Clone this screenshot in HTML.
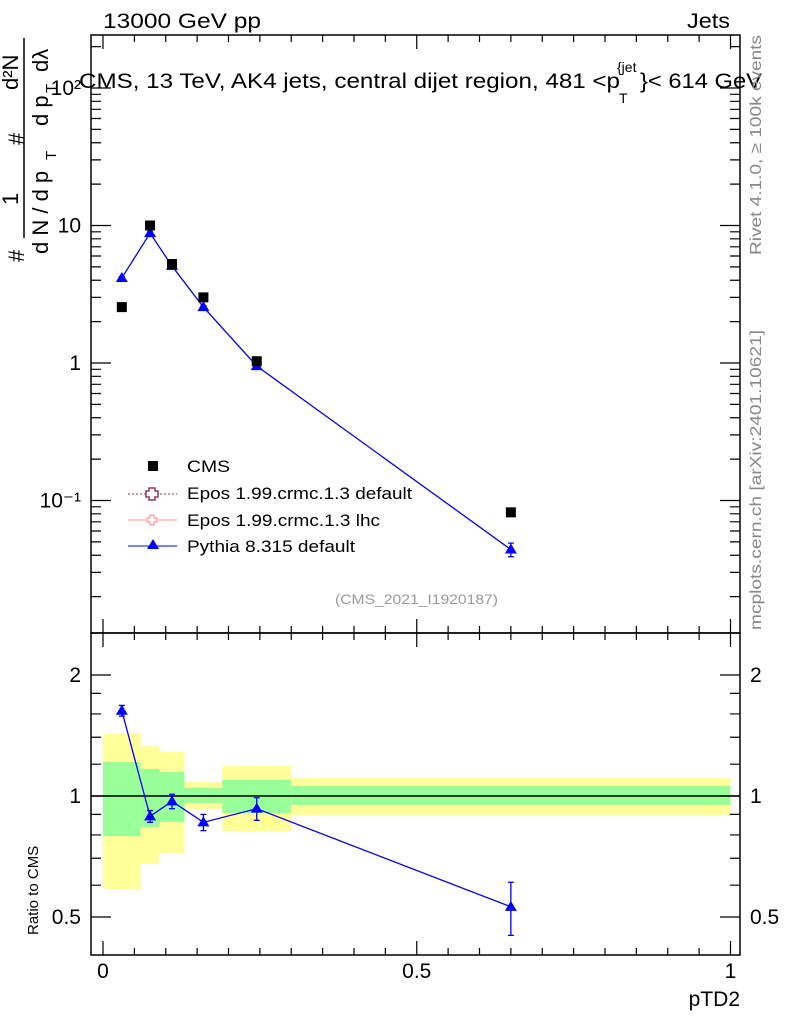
<!DOCTYPE html>
<html><head><meta charset="utf-8"><style>
body{margin:0;background:#fff;width:786px;height:1024px;overflow:hidden}
svg text{font-family:"Liberation Sans",sans-serif}
</style></head><body>
<svg id="c" width="786" height="1024" xmlns="http://www.w3.org/2000/svg">
<g id="bands"></g>
<g id="marks"></g>
<g id="axes"></g>
<text x="103" y="28" font-size="21" textLength="158" lengthAdjust="spacingAndGlyphs">13000 GeV pp</text>
<text x="687" y="28" font-size="21" textLength="43" lengthAdjust="spacingAndGlyphs">Jets</text>
<g>
<text x="79" y="88" font-size="21" textLength="541" lengthAdjust="spacingAndGlyphs">CMS, 13 TeV, AK4 jets, central dijet region, 481 &lt;p</text>
<text x="617" y="72" font-size="14">{jet</text>
<text x="619" y="103" font-size="14">T</text>
<text x="640" y="88" font-size="21" textLength="122" lengthAdjust="spacingAndGlyphs">}&lt; 614 GeV</text>
</g>
<text x="335" y="604" font-size="14" fill="#999" textLength="163" lengthAdjust="spacingAndGlyphs">(CMS_2021_I1920187)</text>
<text transform="translate(761,255) rotate(-90)" font-size="16" fill="#888" textLength="220" lengthAdjust="spacingAndGlyphs">Rivet 4.1.0, ≥ 100k events</text>
<text transform="translate(761,630) rotate(-90)" font-size="16" fill="#888" textLength="300" lengthAdjust="spacingAndGlyphs">mcplots.cern.ch [arXiv:2401.10621]</text>
<g>
<text transform="translate(24,262) rotate(-90)" font-size="22">#</text>
<text transform="translate(18,205) rotate(-90)" font-size="22">1</text>
<text transform="translate(24,145) rotate(-90)" font-size="22">#</text>
<text transform="translate(18,90) rotate(-90)" font-size="22">d²N</text>
<line x1="24" y1="38" x2="24" y2="238" stroke="#000" stroke-width="1.5"/>
<text transform="translate(48,254) rotate(-90)" font-size="22">d N / d p</text>
<text transform="translate(56,160) rotate(-90)" font-size="15">T</text>
<text transform="translate(48,126) rotate(-90)" font-size="22">d p</text>
<text transform="translate(56,93) rotate(-90)" font-size="15">T</text>
<text transform="translate(48,72) rotate(-90)" font-size="22">dλ</text>
</g>
<text transform="translate(38,935) rotate(-90)" font-size="15">Ratio to CMS</text>
<text x="740" y="1006" font-size="21" text-anchor="end">pTD2</text>
<g>
<rect x="148" y="461" width="10" height="10" fill="#000"/>
<text x="187" y="472" font-size="17" textLength="43" lengthAdjust="spacingAndGlyphs">CMS</text>
<line x1="128" y1="494" x2="177" y2="494" stroke="#8b3a5a" stroke-dasharray="2,2"/>
<path d="M149,488h6v3h3v6h-3v3h-6v-3h-3v-6h3z" fill="#fff" stroke="#8b3a5a" stroke-width="1.5"/>
<text x="187" y="499" font-size="17" textLength="225" lengthAdjust="spacingAndGlyphs">Epos 1.99.crmc.1.3 default</text>
<line x1="128" y1="520" x2="177" y2="520" stroke="#f99"/>
<path d="M150,515h4v3h3v4h-3v3h-4v-3h-3v-4h3z" fill="#fff" stroke="#f99" stroke-width="1.2"/>
<text x="187" y="526" font-size="17" textLength="193" lengthAdjust="spacingAndGlyphs">Epos 1.99.crmc.1.3 lhc</text>
<line x1="128" y1="546" x2="177" y2="546" stroke="#00f"/>
<path d="M153,539l6,10h-12z" fill="#00f"/>
<text x="187" y="552" font-size="17" textLength="168" lengthAdjust="spacingAndGlyphs">Pythia 8.315 default</text>
</g>
</svg>
<script>
const xs=[0.03,0.075,0.11,0.16,0.245,0.65];
const binLo=[0,0.06,0.09,0.13,0.19,0.3];
const binHi=[0.06,0.09,0.13,0.19,0.3,1.0];
const cmsVals=[2.55,10,5.25,3.0,1.03,0.082];
const pythiaVals=[4.15,8.8,5.07,2.55,0.95,0.044];
const pythiaErr=[0.1,0.2,0.1,0.06,0.03,0.005];
const ratioVals=[1.63,0.89,0.97,0.86,0.93,0.53];
const ratioErr=[0.05,0.03,0.04,0.04,0.06,0.08];
const yelHi=[1.43,1.33,1.287,1.083,1.188,1.109];
const yelLo=[0.587,0.677,0.721,0.929,0.818,0.897];
const grnHi=[1.215,1.167,1.147,1.047,1.096,1.059];
const grnLo=[0.795,0.837,0.862,0.961,0.907,0.95];
const mainTicks=[0.1,1,10,100];
const mainTickLabels=["10⁻¹","1","10","10²"];
const ratioTicks=[0.5,1,2];
const xTicks=[0,0.5,1];
const X=v=>103+v*627.5;
const Y=v=>363-137.5*Math.log10(v);
const R=v=>796-121*Math.log2(v);
const L=91,Rr=740,T=35,M=633,B=955;
const NS="http://www.w3.org/2000/svg";
function mk(p,tag,a){const e=document.createElementNS(NS,tag);for(const k in a)e.setAttribute(k,a[k]);p.appendChild(e);return e;}
const bands=document.getElementById('bands'),marks=document.getElementById('marks'),axes=document.getElementById('axes');
for(let i=0;i<xs.length;i++){
 let e=mk(bands,'rect',{x:X(binLo[i]),y:R(yelHi[i]),width:X(binHi[i])-X(binLo[i]),height:R(yelLo[i])-R(yelHi[i]),fill:'#ffff99'});
 
 
 e=mk(bands,'rect',{x:X(binLo[i]),y:R(grnHi[i]),width:X(binHi[i])-X(binLo[i]),height:R(grnLo[i])-R(grnHi[i]),fill:'#99ff99'});
 
 
}
let e=mk(bands,'line',{x1:L,x2:Rr,y1:R(1),y2:R(1),stroke:'#000','stroke-width':1.5});


e=mk(marks,'polyline',{points:xs.map((x,i)=>X(x)+','+Y(pythiaVals[i])).join(' '),fill:'none',stroke:'#00f','stroke-width':1.3});


e=mk(marks,'polyline',{points:xs.map((x,i)=>X(x)+','+R(ratioVals[i])).join(' '),fill:'none',stroke:'#00f','stroke-width':1.3});


function tri(x,y,name){const t=mk(marks,'path',{d:`M${x},${y-6}l6,10h-12z`,fill:'#00f'});}
function err(x,y1,y2,name){const g=mk(marks,'path',{d:`M${x},${y1}V${y2}M${x-3},${y1}h6M${x-3},${y2}h6`,stroke:'#00f','stroke-width':1.3,fill:'none'});}
for(let i=0;i<xs.length;i++){
 err(X(xs[i]),Y(pythiaVals[i]+pythiaErr[i]),Y(pythiaVals[i]-pythiaErr[i]),'pythia-error');
 tri(X(xs[i]),Y(pythiaVals[i]),'pythia-point');
 err(X(xs[i]),R(ratioVals[i]+ratioErr[i]),R(ratioVals[i]-ratioErr[i]),'ratio-error');
 tri(X(xs[i]),R(ratioVals[i]),'ratio-point');
 const s=mk(marks,'rect',{x:X(xs[i])-5,y:Y(cmsVals[i])-5,width:10,height:10,fill:'#000'});
 
 
}
e=mk(axes,'rect',{x:L,y:T,width:Rr-L,height:M-T,fill:'none',stroke:'#000','stroke-width':1.5});


e=mk(axes,'rect',{x:L,y:M,width:Rr-L,height:B-M,fill:'none',stroke:'#000','stroke-width':1.5});


let d='';
for(let dec=-2;dec<=2;dec++)for(let k=1;k<10;k++){const v=k*Math.pow(10,dec);const y=Y(v);if(y<T||y>M)continue;const len=k==1?20:10;d+=`M${L},${y}h${len}M${Rr},${y}h${-len}`;}
for(let v=0;v<=1.0001;v+=0.05){const x=X(v);const big=Math.abs(v*2-Math.round(v*2))<1e-6;const len=big?14:7;d+=`M${x},${M}v${-len}M${x},${T}v${len}M${x},${B}v${-len}M${x},${M}v${len}`;}
for(const v of [0.5,0.6,0.7,0.8,0.9,1,1.2,1.4,1.6,1.8,2]){const y=R(v);if(y<M||y>B)continue;const len=(v==0.5||v==1||v==2)?20:10;d+=`M${L},${y}h${len}M${Rr},${y}h${-len}`;}
e=mk(axes,'path',{d:d,stroke:'#000','stroke-width':1.2,fill:'none'});


mainTicks.forEach((v,i)=>{const t=mk(axes,'text',{x:L-10,y:Y(v)+7,'font-size':21,'text-anchor':'end'});t.textContent=mainTickLabels[i];});
ratioTicks.forEach(v=>{for(const [x,a] of [[L-10,'end'],[Rr+10,'start']]){const t=mk(axes,'text',{x:x,y:R(v)+7,'font-size':21,'text-anchor':a});t.textContent=String(v);}});
xTicks.forEach(v=>{const t=mk(axes,'text',{x:X(v),y:978,'font-size':21,'text-anchor':'middle'});t.textContent=String(v);});
</script>
</body></html>
